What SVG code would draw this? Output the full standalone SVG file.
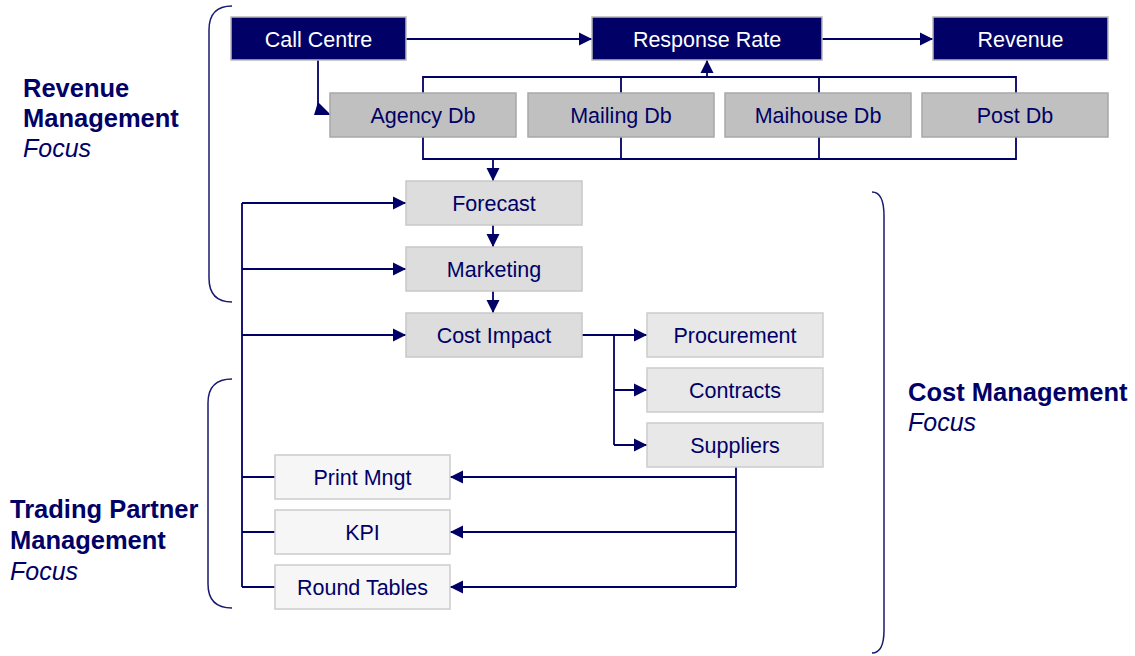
<svg xmlns="http://www.w3.org/2000/svg" width="1135" height="656" viewBox="0 0 1135 656">
<style>
.n text{font-family:"Liberation Sans",Arial,sans-serif;font-size:21.5px;text-anchor:middle;fill:#000066}
.dark rect{fill:#000066;stroke:#b8b8b8;stroke-width:1.5}
.dark text{fill:#ffffff}
.db rect{fill:#c0c0c0;stroke:#a8a8a8;stroke-width:1.5}
.mid rect{fill:#dddddd;stroke:#c8c8c8;stroke-width:1.5}
.lt rect{fill:#e8e8e8;stroke:#cccccc;stroke-width:1.5}
.vl rect{fill:#f6f6f6;stroke:#cccccc;stroke-width:1.5}
.c path{fill:none;stroke:#000066;stroke-width:1.8}
.c .a{marker-end:url(#ah)}
.br{fill:none;stroke:#1a1a70;stroke-width:1.5}
.lab{font-family:"Liberation Sans",Arial,sans-serif;font-size:25px;fill:#000066}
.lab .b{font-weight:bold;font-size:25.5px}
.lab .i{font-style:italic}
</style>
<defs>
<marker id="ah" markerUnits="userSpaceOnUse" markerWidth="14" markerHeight="14" refX="13" refY="7" orient="auto">
<path d="M0,0.5 L13,7 L0,13.5 z" fill="#000066"/>
</marker>
</defs>
<rect width="1135" height="656" fill="#ffffff"/>

<g id="brackets">
<path class="br" d="M232 6 Q209 6 209 30 V278 Q209 302 232 302"/>
<path class="br" d="M232 379 Q208 379 208 403 V584 Q208 608 232 608"/>
<path class="br" d="M872 192 Q884 192 884 216 V630 Q884 653 872 653"/>
</g>

<g id="labels" class="lab">
<text x="23" y="97" class="b">Revenue</text>
<text x="23" y="127" class="b">Management</text>
<text x="23" y="157" class="i">Focus</text>
<text x="908" y="401" class="b">Cost Management</text>
<text x="908" y="431" class="i">Focus</text>
<text x="10" y="518" class="b">Trading Partner</text>
<text x="10" y="549" class="b">Management</text>
<text x="10" y="580" class="i">Focus</text>
</g>

<g id="connectors" class="c">
<path class="a" d="M406 39 H592"/>
<path class="a" d="M822 39 H933"/>
<path d="M318 60 V108"/>
<polygon points="318,102 314,115 331,115" fill="#000066"/>
<path d="M423 93 V77 H1016 V93 M621 77 V93 M819 77 V93"/>
<path class="a" d="M707 77 V60"/>
<path d="M423 137 V159 H1016 V137 M621 137 V159 M819 137 V159"/>
<path class="a" d="M493 159 V181"/>
<path class="a" d="M493 225 V247"/>
<path class="a" d="M493 291 V313"/>
<path d="M242 203 V587"/>
<path class="a" d="M242 203 H406"/>
<path class="a" d="M242 269 H406"/>
<path class="a" d="M242 335 H406"/>
<path d="M242 477 H275 M242 532 H275 M242 587 H275"/>
<path class="a" d="M582 335 H647"/>
<path d="M614 335 V445"/>
<path class="a" d="M614 390 H647"/>
<path class="a" d="M614 445 H647"/>
<path d="M736 467 V587"/>
<path class="a" d="M736 477 H450"/>
<path class="a" d="M736 532 H450"/>
<path class="a" d="M736 587 H450"/>
</g>

<g id="call-centre" class="n dark"><rect x="231" y="17" width="175" height="43"/><text x="318.5" y="46.5">Call Centre</text></g>
<g id="response-rate" class="n dark"><rect x="592" y="17" width="230" height="43"/><text x="707" y="46.5">Response Rate</text></g>
<g id="revenue" class="n dark"><rect x="933" y="17" width="175" height="43"/><text x="1020.5" y="46.5">Revenue</text></g>

<g id="agency-db" class="n db"><rect x="330" y="93" width="186" height="44"/><text x="423" y="123">Agency Db</text></g>
<g id="mailing-db" class="n db"><rect x="528" y="93" width="186" height="44"/><text x="621" y="123">Mailing Db</text></g>
<g id="maihouse-db" class="n db"><rect x="725" y="93" width="186" height="44"/><text x="818" y="123">Maihouse Db</text></g>
<g id="post-db" class="n db"><rect x="922" y="93" width="186" height="44"/><text x="1015" y="123">Post Db</text></g>

<g id="forecast" class="n mid"><rect x="406" y="181" width="176" height="44"/><text x="494" y="211">Forecast</text></g>
<g id="marketing" class="n mid"><rect x="406" y="247" width="176" height="44"/><text x="494" y="277">Marketing</text></g>
<g id="cost-impact" class="n mid"><rect x="406" y="313" width="176" height="44"/><text x="494" y="343">Cost Impact</text></g>

<g id="procurement" class="n lt"><rect x="647" y="313" width="176" height="44"/><text x="735" y="343">Procurement</text></g>
<g id="contracts" class="n lt"><rect x="647" y="368" width="176" height="44"/><text x="735" y="398">Contracts</text></g>
<g id="suppliers" class="n lt"><rect x="647" y="423" width="176" height="44"/><text x="735" y="453">Suppliers</text></g>

<g id="print-mngt" class="n vl"><rect x="275" y="455" width="175" height="44"/><text x="362.5" y="485">Print Mngt</text></g>
<g id="kpi" class="n vl"><rect x="275" y="510" width="175" height="44"/><text x="362.5" y="540">KPI</text></g>
<g id="round-tables" class="n vl"><rect x="275" y="565" width="175" height="44"/><text x="362.5" y="595">Round Tables</text></g>
</svg>
